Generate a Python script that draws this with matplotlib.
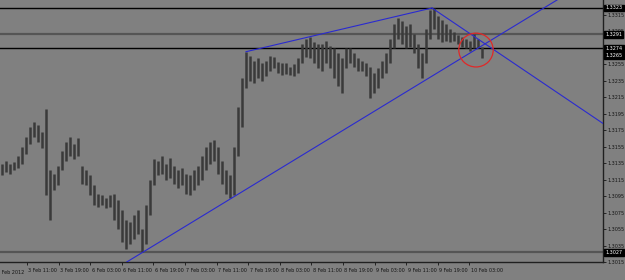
import matplotlib
matplotlib.use("Agg")
import matplotlib.pyplot as plt
import matplotlib.transforms as mtrans
from matplotlib.patches import Ellipse
import numpy as np

# Hourly bar highs / lows (EURUSD, 2-10 Feb 2012)
highs = [1.3134, 1.3137, 1.3134, 1.3136, 1.3143, 1.3155, 1.3167, 1.3179, 1.3185, 1.3181,
         1.3173, 1.3200, 1.3126, 1.3122, 1.3132, 1.3149, 1.3161, 1.3167, 1.3158, 1.3165,
         1.3132, 1.3126, 1.3120, 1.3108, 1.3098, 1.3096, 1.3092, 1.3096, 1.3098, 1.3090,
         1.3078, 1.3066, 1.3063, 1.3072, 1.3078, 1.3055, 1.3084, 1.3114, 1.3140, 1.3137,
         1.3143, 1.3134, 1.3141, 1.3132, 1.3126, 1.3129, 1.3122, 1.3120, 1.3126, 1.3132,
         1.3143, 1.3155, 1.3161, 1.3163, 1.3155, 1.3137, 1.3126, 1.3120, 1.3155, 1.3203,
         1.3238, 1.3270, 1.3265, 1.3259, 1.3262, 1.3256, 1.3259, 1.3265, 1.3264, 1.3258,
         1.3256, 1.3256, 1.3252, 1.3255, 1.3262, 1.3279, 1.3285, 1.3288, 1.3282, 1.3279,
         1.3279, 1.3283, 1.3277, 1.3274, 1.3268, 1.3262, 1.3274, 1.3274, 1.3268, 1.3262,
         1.3259, 1.3256, 1.3252, 1.3244, 1.3250, 1.3259, 1.3268, 1.3285, 1.3303, 1.3311,
         1.3307, 1.3301, 1.3303, 1.3291, 1.3279, 1.3268, 1.3297, 1.3321, 1.3323, 1.3313,
         1.3309, 1.3303, 1.3297, 1.3294, 1.3290, 1.3288, 1.3285, 1.3283, 1.3291, 1.3285,
         1.3276]
lows = [1.3120, 1.3124, 1.3122, 1.3126, 1.3129, 1.3134, 1.3146, 1.3158, 1.3167, 1.3161,
        1.3153, 1.3096, 1.3066, 1.3102, 1.3108, 1.3126, 1.3137, 1.3143, 1.3140, 1.3143,
        1.3110, 1.3108, 1.3096, 1.3084, 1.3082, 1.3084, 1.3081, 1.3082, 1.3066, 1.3055,
        1.3039, 1.3031, 1.3037, 1.3043, 1.3049, 1.3027, 1.3037, 1.3072, 1.3108, 1.3120,
        1.3122, 1.3114, 1.3117, 1.3110, 1.3105, 1.3108, 1.3098, 1.3096, 1.3102, 1.3108,
        1.3114, 1.3126, 1.3134, 1.3137, 1.3122, 1.3110, 1.3098, 1.3092, 1.3096, 1.3143,
        1.3179, 1.3226, 1.3234, 1.3232, 1.3238, 1.3234, 1.3240, 1.3247, 1.3250, 1.3244,
        1.3242, 1.3243, 1.3242, 1.3240, 1.3244, 1.3256, 1.3264, 1.3262, 1.3256, 1.3250,
        1.3246, 1.3256, 1.3250, 1.3238, 1.3229, 1.3220, 1.3250, 1.3256, 1.3252, 1.3247,
        1.3246, 1.3240, 1.3214, 1.3220, 1.3226, 1.3238, 1.3244, 1.3256, 1.3274, 1.3285,
        1.3279, 1.3274, 1.3276, 1.3268, 1.3250, 1.3238, 1.3256, 1.3285, 1.3297, 1.3285,
        1.3282, 1.3283, 1.3282, 1.3283, 1.3279, 1.3276, 1.3274, 1.3271, 1.3274, 1.3274,
        1.3262]

# Horizontal price levels
hlevels = [1.3323, 1.3291, 1.3274, 1.3027]
hlevel_labels = ["1.3323", "1.3291", "1.3274", "1.3027"]
bid_price = 1.3265
bid_label = "1.3265"

# Trendline anchors (bar index, price)
lower_trend = [(35.25, 1.3027), (105.0, 1.3233)]
upper_trend = [(61.0, 1.3270), (107.5, 1.3323)]
down_trend = [(107.5, 1.3323), (150.25, 1.3183)]

# Price axis ticks (1.3275 sits under a level box)
price_ticks = [1.3015 + 0.0020 * k for k in range(16)]
price_tick_labels = ["" if abs(t - 1.3275) < 1e-6 else f"{t:.4f}" for t in price_ticks]

# Time axis labels
time_labels = ["2 Feb 2012", "3 Feb 11:00", "3 Feb 19:00", "6 Feb 03:00", "6 Feb 11:00",
               "6 Feb 19:00", "7 Feb 03:00", "7 Feb 11:00", "7 Feb 19:00", "8 Feb 03:00",
               "8 Feb 11:00", "8 Feb 19:00", "9 Feb 03:00", "9 Feb 11:00", "9 Feb 19:00",
               "10 Feb 03:00"]

BG = "#808080"
FS = 3.5
TXT = "#151515"
fig = plt.figure(figsize=(6.25, 2.8), dpi=100, facecolor=BG)
ax = fig.add_axes([0.0, 18 / 280, 603 / 625, 262 / 280])
ax.set_facecolor(BG)

idx = np.arange(len(highs))
ax.vlines(idx, lows, highs, color="#3a3a3a", linewidth=1.8, zorder=3)

xmin, xmax = -0.5, 150.25
ymin, ymax = 1.30226, 1.33327
ax.set_xlim(xmin, xmax)
ax.set_ylim(ymin, ymax)

# horizontal lines
hl_styles = [("#000000", 1.0), ("#555555", 1.6), ("#000000", 1.0), ("#555555", 1.6)]
for p, (c, lw) in zip(hlevels, hl_styles):
    ax.axhline(p, color=c, linewidth=lw, zorder=2)

# trendlines
blue = "#2a2ad0"
ax.axline(lower_trend[0], lower_trend[1], color=blue, linewidth=0.8, zorder=4)
ax.plot([upper_trend[0][0], upper_trend[1][0]], [upper_trend[0][1], upper_trend[1][1]],
        color=blue, linewidth=0.8, zorder=4)
ax.plot([down_trend[0][0], down_trend[1][0]], [down_trend[0][1], down_trend[1][1]],
        color=blue, linewidth=0.8, zorder=4)

# red circle
ax.add_patch(Ellipse((118.5, 1.3272), 8.6, 0.0041, fill=False, edgecolor="#e02828",
                     linewidth=0.9, zorder=5))

# spines
for s in ["left", "top"]:
    ax.spines[s].set_visible(False)
for s in ["right", "bottom"]:
    ax.spines[s].set_color("#202020")
    ax.spines[s].set_linewidth(1.0)

# price axis
ax.yaxis.tick_right()
ax.set_yticks(price_ticks)
ax.set_yticklabels(price_tick_labels)
ax.tick_params(axis="y", length=2, width=0.6, pad=1.5, labelsize=FS, colors=TXT)

# time axis
tick_pos = [6.25 + 7.9 * (k - 1) for k in range(len(time_labels))]
ax.set_xticks(tick_pos[1:])
ax.set_xticklabels(time_labels[1:], ha="left")
ax.tick_params(axis="x", length=2.5, width=0.6, pad=2.0, labelsize=FS, colors=TXT)
off = mtrans.ScaledTranslation(1.0 / 72, 0, fig.dpi_scale_trans)
for lab in ax.get_xticklabels():
    lab.set_transform(lab.get_transform() + off)
ax.text(tick_pos[0] + 0.3, -0.03, time_labels[0], transform=ax.get_xaxis_transform(),
        ha="left", va="top", fontsize=FS, color=TXT, clip_on=False)

# boxed level labels
for p, t in list(zip(hlevels, hlevel_labels)) + [(bid_price, bid_label)]:
    ax.text(1.004, p, t, transform=ax.get_yaxis_transform(), ha="left", va="center",
            fontsize=FS, color="white", clip_on=False, zorder=10,
            bbox=dict(boxstyle="square,pad=0.2", facecolor="black", edgecolor="black"))

fig.savefig("out.png", dpi=100, facecolor=BG)
